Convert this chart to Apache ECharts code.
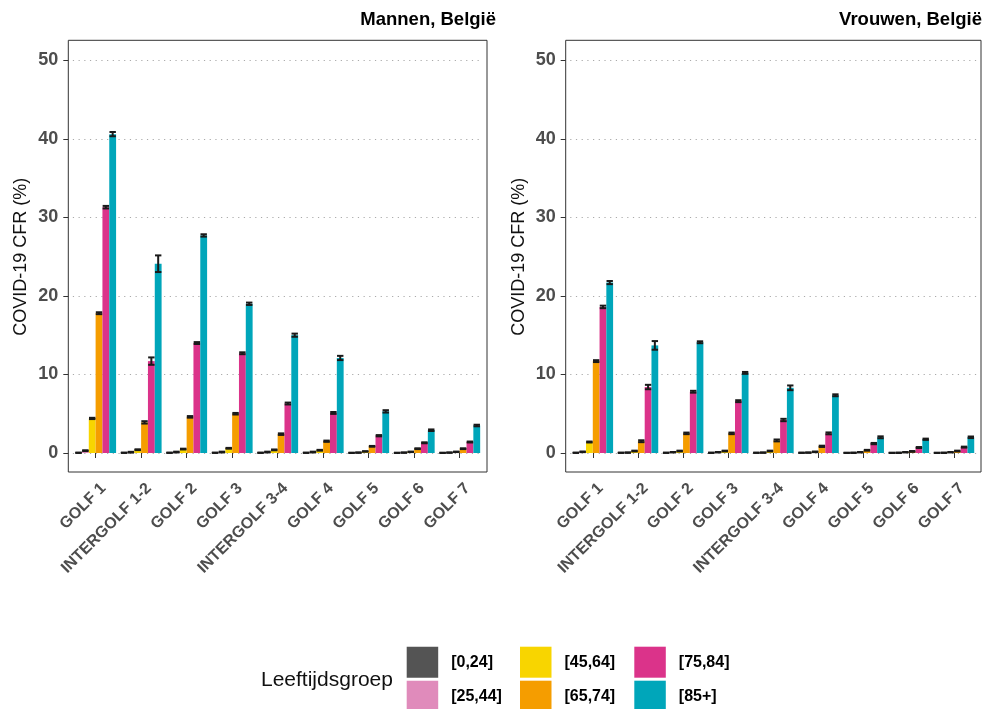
<!DOCTYPE html>
<html>
<head>
<meta charset="utf-8">
<script src="https://cdn.jsdelivr.net/npm/echarts@6/dist/echarts.min.js"></script>
<style>
html,body{margin:0;padding:0;background:#fff;}
#chart{width:985px;height:709px;}
</style>
</head>
<body>
<div id="chart"></div>
<script>
// ---- data ----
const categories = ['GOLF 1','INTERGOLF 1-2','GOLF 2','GOLF 3','INTERGOLF 3-4','GOLF 4','GOLF 5','GOLF 6','GOLF 7'];
const ageGroups = ['[0,24]','[25,44]','[45,64]','[65,74]','[75,84]','[85+]'];
const ageColors = ['#545454','#E08BBB','#F8D500','#F59D00','#DB338A','#00A6BA'];
const yTicks = [0,10,20,30,40,50];

// Mannen (men) CFR %
const men_0_24  = [0.03,0.03,0.03,0.03,0.03,0.03,0.02,0.02,0.02];
const men_25_44 = [0.3,0.1,0.12,0.12,0.12,0.12,0.05,0.05,0.05];
const men_45_64 = [4.4,0.42,0.5,0.6,0.4,0.35,0.2,0.15,0.15];
const men_65_74 = [17.8,3.9,4.6,5.0,2.4,1.5,0.85,0.55,0.55];
const men_75_84 = [31.3,11.7,14.0,12.7,6.3,5.1,2.2,1.3,1.4];
const men_85    = [40.6,24.1,27.7,19.0,15.0,12.1,5.3,2.9,3.5];
// half-width of the confidence interval (men)
const menErr_0_24  = [0.02,0.02,0.02,0.02,0.02,0.02,0.02,0.02,0.02];
const menErr_25_44 = [0.05,0.05,0.05,0.05,0.05,0.05,0.03,0.03,0.03];
const menErr_45_64 = [0.08,0.05,0.05,0.05,0.05,0.05,0.03,0.03,0.03];
const menErr_65_74 = [0.12,0.15,0.1,0.1,0.1,0.08,0.05,0.05,0.05];
const menErr_75_84 = [0.16,0.47,0.12,0.12,0.12,0.12,0.08,0.06,0.06];
const menErr_85    = [0.27,1.06,0.15,0.15,0.2,0.27,0.15,0.1,0.1];

// Vrouwen (women) CFR %
const women_0_24  = [0.03,0.03,0.03,0.03,0.03,0.03,0.02,0.02,0.02];
const women_25_44 = [0.15,0.05,0.1,0.1,0.05,0.05,0.03,0.03,0.03];
const women_45_64 = [1.4,0.25,0.25,0.25,0.25,0.15,0.1,0.1,0.1];
const women_65_74 = [11.7,1.5,2.5,2.5,1.6,0.85,0.35,0.2,0.25];
const women_75_84 = [18.6,8.4,7.8,6.6,4.2,2.5,1.2,0.7,0.75];
const women_85    = [21.7,13.7,14.1,10.2,8.3,7.35,2.0,1.75,2.0];
const womenErr_0_24  = [0.02,0.02,0.02,0.02,0.02,0.02,0.02,0.02,0.02];
const womenErr_25_44 = [0.04,0.03,0.03,0.03,0.03,0.03,0.03,0.03,0.03];
const womenErr_45_64 = [0.06,0.05,0.05,0.05,0.05,0.04,0.03,0.03,0.03];
const womenErr_65_74 = [0.12,0.12,0.1,0.1,0.12,0.08,0.05,0.05,0.05];
const womenErr_75_84 = [0.16,0.28,0.12,0.12,0.15,0.12,0.08,0.06,0.06];
const womenErr_85    = [0.2,0.55,0.12,0.12,0.3,0.12,0.12,0.08,0.1];

const panelTitles = ['Mannen, België','Vrouwen, België'];
const yAxisTitle = 'COVID-19 CFR (%)';
const legendTitle = 'Leeftijdsgroep';

// ---- build ----
const panels = [
  {values:[men_0_24,men_25_44,men_45_64,men_65_74,men_75_84,men_85],
   errs:[menErr_0_24,menErr_25_44,menErr_45_64,menErr_65_74,menErr_75_84,menErr_85],
   box:{left:68.3, right:487, top:40.3, bottom:472}},
  {values:[women_0_24,women_25_44,women_45_64,women_65_74,women_75_84,women_85],
   errs:[womenErr_0_24,womenErr_25_44,womenErr_45_64,womenErr_65_74,womenErr_75_84,womenErr_85],
   box:{left:565.7, right:981, top:40.3, bottom:472}}
];
const Y0 = 453, Y50 = 60.3;
const FONT = 'Liberation Sans, Arial, sans-serif';

const grids = [], xAxes = [], yAxes = [], series = [];
panels.forEach((p, i) => {
  const bw = p.box.right - p.box.left;
  const band = bw / 9.2;
  grids.push({left: p.box.left + 0.1*band, width: 9*band, top: Y50, height: Y0 - Y50, containLabel:false});
});
panels.forEach((p, i) => {
  grids.push({left: p.box.left, width: p.box.right - p.box.left, top: p.box.top,
    height: p.box.bottom - p.box.top, show:true, borderColor:'#333', borderWidth:1,
    backgroundColor:'transparent', z:3});
});
panels.forEach((p, i) => {
  const bw = p.box.right - p.box.left;
  const band = bw / 9.2;
  xAxes.push({
    type:'category', gridIndex:i, data:categories, position:'bottom',
    offset: p.box.bottom - Y0,
    axisLine:{show:false},
    axisTick:{show:true, alignWithLabel:true, length:5, lineStyle:{color:'#333', width:1}},
    axisLabel:{interval:0, rotate:45, fontSize:16, fontWeight:'bold', color:'#4d4d4d', margin:6,
      verticalAlign:'top', padding:[3,0,0,0], fontFamily:FONT},
    splitLine:{show:false}
  });
  yAxes.push({
    type:'value', gridIndex:i, min:yTicks[0], max:yTicks[yTicks.length-1], interval:10,
    offset: 0.1*band,
    axisLine:{show:false},
    axisTick:{show:true, length:5, lineStyle:{color:'#333', width:1}},
    axisLabel:{fontSize:18, fontWeight:'bold', color:'#4d4d4d', margin:10, fontFamily:FONT},
    splitLine:{show:true, lineStyle:{color:'#aaaaaa', width:1.2, type:[1.2,4.5]}},
    name: yAxisTitle, nameLocation:'middle', nameGap:38,
    nameTextStyle:{fontSize:18, color:'#111', fontFamily:FONT}
  });
});
panels.forEach((p, i) => {
  xAxes.push({type:'value', gridIndex:2+i, show:false});
  yAxes.push({type:'value', gridIndex:2+i, show:false});
});

panels.forEach((p, i) => {
  ageGroups.forEach((ag, k) => {
    series.push({
      type:'bar', name:ag, xAxisIndex:i, yAxisIndex:i,
      data:p.values[k], barWidth:'15%', barGap:'0%',
      itemStyle:{color:ageColors[k]}, z:2, silent:true
    });
  });
  const errData = [];
  ageGroups.forEach((ag, k) => {
    p.values[k].forEach((v, c) => errData.push([c, v, p.errs[k][c], k]));
  });
  series.push({
    type:'custom', name:'ci'+i, xAxisIndex:i, yAxisIndex:i, z:4, silent:true,
    encode:{x:0, y:1},
    data: errData,
    renderItem: function(params, api){
      const c = api.value(0), v = api.value(1), e = api.value(2), k = api.value(3);
      const band = api.size([1,0])[0];
      const bwid = band*0.15;
      const pt = api.coord([c, v]);
      const x = pt[0] + (k-2.5)*bwid;
      const lo = api.coord([c, v-e])[1];
      const hi = api.coord([c, v+e])[1];
      const hw = bwid*0.47;
      const st = {stroke:'#1a1a1a', lineWidth:2};
      return {type:'group', children:[
        {type:'line', shape:{x1:x, y1:lo, x2:x, y2:hi}, style:st},
        {type:'line', shape:{x1:x-hw, y1:lo, x2:x+hw, y2:lo}, style:st},
        {type:'line', shape:{x1:x-hw, y1:hi, x2:x+hw, y2:hi}, style:st}
      ]};
    }
  });
});

const legendCols = [[ageGroups[0],ageGroups[1]],[ageGroups[2],ageGroups[3]],[ageGroups[4],ageGroups[5]]];
const legendLefts = [406.7, 520, 634.3];
const legends = legendCols.map((names, j) => ({
  data:names, orient:'vertical', left:legendLefts[j], top:646.7, height:80, padding:0,
  itemWidth:31.5, itemHeight:31, itemGap:3, icon:'rect', selectedMode:false,
  textStyle:{fontSize:16, fontWeight:'bold', color:'#000', fontFamily:FONT, padding:[0,0,0,8]}
}));

const option = {
  animation:false,
  backgroundColor:'#fff',
  textStyle:{fontFamily:FONT},
  title:[
    {text:panelTitles[0], right:985-496, top:10, padding:0, textStyle:{fontSize:18.5, fontWeight:'bold', color:'#000', fontFamily:FONT}},
    {text:panelTitles[1], right:3, top:10, padding:0, textStyle:{fontSize:18.5, fontWeight:'bold', color:'#000', fontFamily:FONT}},
    {text:legendTitle, left:261, top:670, padding:0, textStyle:{fontSize:21, fontWeight:'normal', color:'#111', fontFamily:FONT}}
  ],
  legend:legends,
  grid:grids,
  xAxis:xAxes,
  yAxis:yAxes,
  series:series
};
const chart = echarts.init(document.getElementById('chart'), null, {renderer:'canvas'});
chart.setOption(option);
</script>
</body>
</html>
